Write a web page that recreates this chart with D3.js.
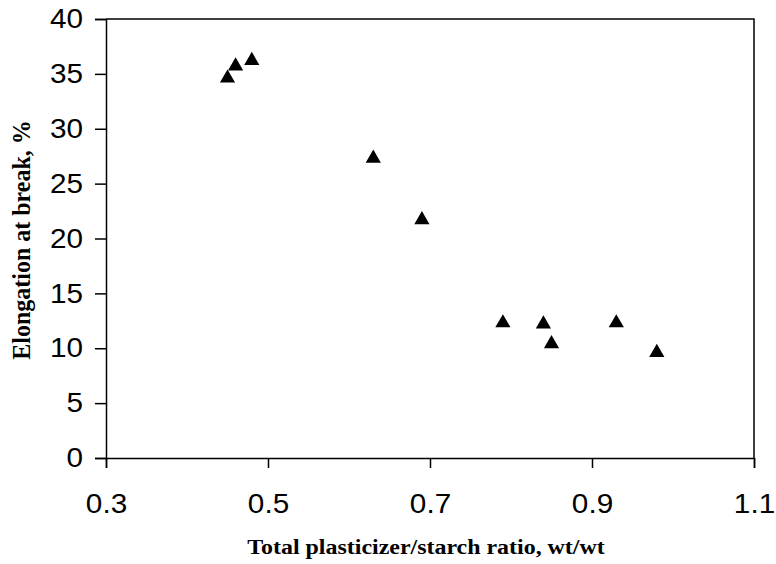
<!DOCTYPE html>
<html>
<head>
<meta charset="utf-8">
<script src="https://cdn.jsdelivr.net/npm/d3@7"></script>
<style>
  body { margin: 0; background: #fff; }
  svg { display: block; }
  .tick text { font-family: "Liberation Sans", Arial, sans-serif; font-size: 27px; fill: #000; }
  .title { font-family: "Liberation Serif", "Times New Roman", serif; font-weight: bold; fill: #000; }
</style>
</head>
<body>
<svg id="chart" width="776" height="564"></svg>
<script>
// Plasticizer/starch ratio vs. elongation at break
const ratio      = [0.45, 0.46, 0.48, 0.63, 0.69, 0.79, 0.84, 0.85, 0.93, 0.98];
const elongation = [34.7, 35.8, 36.3, 27.4, 21.8, 12.4, 12.3, 10.5, 12.4, 9.7];
const xTicks = [0.3, 0.5, 0.7, 0.9, 1.1];
const yTicks = [0, 5, 10, 15, 20, 25, 30, 35, 40];

const svg = d3.select("#chart");
const plot = { left: 106, right: 754, top: 19, bottom: 458 };
const stretch = 1.1; // text is drawn slightly wide

const x = d3.scaleLinear().domain([0.3, 1.1]).range([plot.left, plot.right]);
const y = d3.scaleLinear().domain([0, 40]).range([plot.bottom, plot.top]);

// frame: top and right edges
svg.append("path")
  .attr("d", `M${plot.left},${plot.top}H${plot.right}V${plot.bottom}`)
  .attr("fill", "none").attr("stroke", "#000").attr("stroke-width", 1.5);

const xAxis = svg.append("g")
  .attr("transform", `translate(0,${plot.bottom})`)
  .call(d3.axisBottom(x).tickValues(xTicks).tickFormat(d3.format(".1f")).tickSize(10).tickPadding(26));
const yAxis = svg.append("g")
  .attr("transform", `translate(${plot.left},0)`)
  .call(d3.axisLeft(y).tickValues(yTicks).tickSize(11).tickPadding(12));

[xAxis, yAxis].forEach(g => {
  g.select(".domain").attr("stroke", "#000").attr("stroke-width", 1.5);
  g.selectAll(".tick line").attr("stroke", "#000").attr("stroke-width", 1.5);
});
xAxis.selectAll(".tick text").attr("dy", "0.71em")
  .attr("transform", `scale(${stretch},1)`);
yAxis.selectAll(".tick text").attr("x", 0)
  .attr("transform", `translate(-23,0) scale(${stretch},1)`);

// markers
const tri = d3.symbol().type(d3.symbolTriangle).size(100);
svg.append("g").selectAll("path")
  .data(ratio.map((r, i) => [r, elongation[i]]))
  .join("path")
  .attr("d", tri)
  .attr("transform", d => `translate(${x(d[0])},${y(d[1]) + 1})`)
  .attr("fill", "#000");

// axis titles
svg.append("text").attr("class", "title")
  .attr("font-size", 21)
  .attr("transform", "translate(426,554) scale(1.14,1)")
  .attr("text-anchor", "middle")
  .text("Total plasticizer/starch ratio, wt/wt");
svg.append("text").attr("class", "title")
  .attr("font-size", 24)
  .attr("transform", "translate(30,240) rotate(-90) scale(1,1.08)")
  .attr("text-anchor", "middle")
  .text("Elongation at break, %");
</script>
</body>
</html>
